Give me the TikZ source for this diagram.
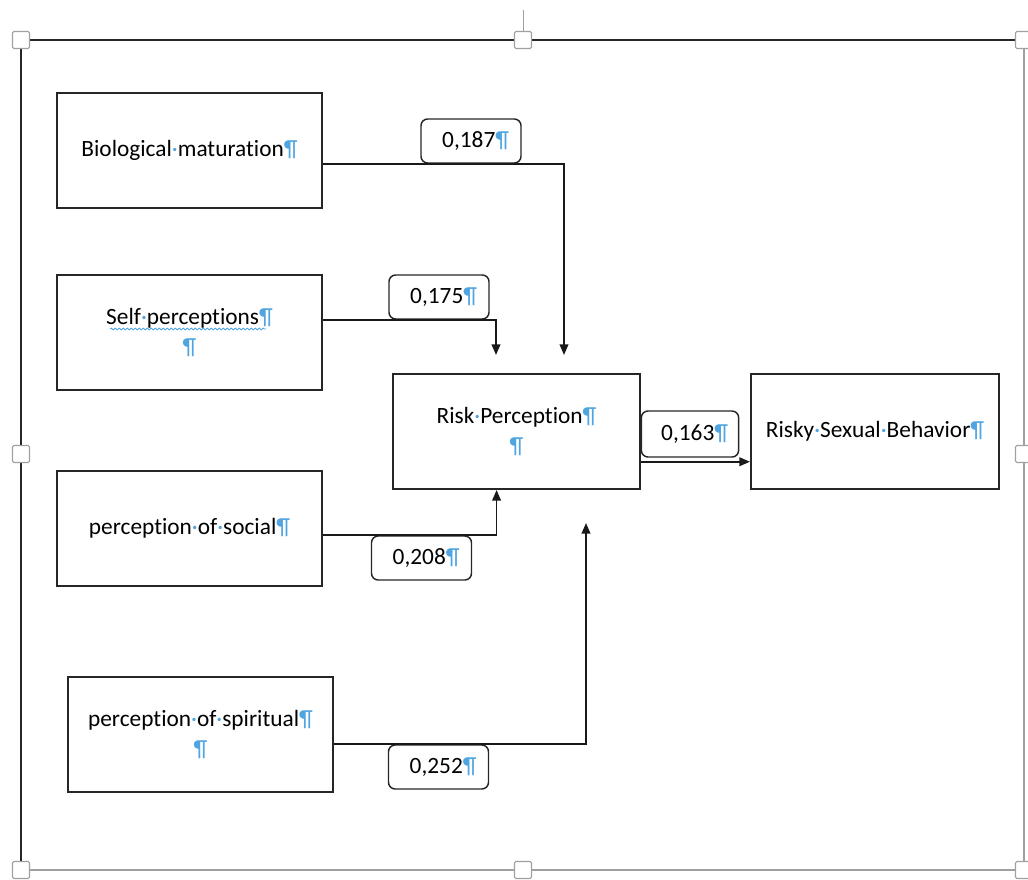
\documentclass[tikz,border=0pt]{standalone}
\usepackage{fontspec}
\setmainfont{Carlito}[Ligatures={NoCommon,NoRequired,NoContextual},RawFeature={-liga;-dlig;-clig}]
\usetikzlibrary{arrows.meta,decorations.pathmorphing,calc}
\definecolor{pilcrow}{RGB}{80,165,225}
\definecolor{framegray}{RGB}{160,160,160}
\newcommand{\pil}{\textcolor{pilcrow}{¶}}
\newcommand{\dt}{\textcolor{pilcrow}{·}}
\begin{document}
\begin{tikzpicture}[x=0.75pt,y=-0.75pt,
  font=\fontsize{17.5}{22}\selectfont,
  varbox/.style={draw=black!85, line width=1.5pt, inner sep=0pt, align=center,
    minimum width=198.75pt, minimum height=86.25pt},
  coefbox/.style={draw=black!85, line width=1.1pt, rounded corners=5pt, inner xsep=9pt, inner ysep=0pt,
    text width=57pt, align=right, minimum height=33pt},
  handle/.style={draw=framegray, fill=white, line width=0.8pt, rounded corners=1pt,
    minimum size=12.75pt, inner sep=0pt},
  conn/.style={black!90, line width=1.3pt},
  arr/.style={conn, -{Triangle[length=8pt,width=6.5pt]}}]
\useasboundingbox (0,0) rectangle (1028,879);
% frame
\draw[framegray, line width=0.6pt] (523,10) -- (523,31);
\draw[framegray, line width=1.2pt] (1024,40) -- (1024,870);
\draw[framegray, line width=0.8pt] (21,870) -- (1024,870);
\draw[black!85, line width=1.6pt] (21,870) -- (21,40) -- (1022,40);
\node[handle] (h1) at (21,40) {};
\node[handle] (h2) at (523,40) {};
\node[handle] (h3) at (1024,40) {};
\node[handle] (h4) at (21,454) {};
\node[handle] (h5) at (1024,454) {};
\node[handle] (h6) at (21,870) {};
\node[handle] (h7) at (523,870) {};
\node[handle] (h8) at (1024,870) {};
% variable boxes
\node[varbox] (bio) at (189.5,150.5) {Biological\dt maturation\pil};
\node[varbox] (self) at (189.5,332.5) {Self\dt perceptions\pil\\\pil};
\node[varbox] (social) at (189.5,528) {perception\dt of\dt social\pil};
\node[varbox] (spirit) at (200.5,734.5) {perception\dt of\dt spiritual\pil\\\pil};
\node[varbox, minimum width=185.25pt] (risk) at (516.5,431.5) {Risk\dt Perception\pil\\\pil};
\node[varbox, minimum width=186pt] (risky) at (875,431.5) {Risky\dt Sexual\dt Behavior\pil};
\draw[pilcrow, line width=0.6pt, decorate, decoration={snake, amplitude=0.7pt, segment length=3pt}] (110,329) -- (266,329);
% coefficient boxes
\node[coefbox] (l187) at (471,141) {0,187\pil};
\node[coefbox] (l175) at (439,297) {0,175\pil};
\node[coefbox] (l208) at (421.5,558) {0,208\pil};
\node[coefbox] (l252) at (438.5,767) {0,252\pil};
\node[coefbox, minimum height=34.5pt, text width=57pt, inner xsep=8pt] (l163) at (690,434) {0,163\pil};
% free ends
\coordinate (a1) at (564,355);
\coordinate (a2) at (496,355);
\coordinate (a3) at ($(risk.south west)!0.42!(risk.south east)$);
\coordinate (a4) at (586,523);
% connectors
\draw[arr] (bio.east |- l187.south) -| (a1);
\draw[arr] (self.east |- l175.south) -| (a2);
\draw[arr] (social.east |- l208.north) -| (a3);
\draw[arr] (spirit.east |- l252.north) -| (a4);
\draw[arr] ($(risk.east |- l163.south)+(0,4)$) -- ($(risky.west |- l163.south)+(0,4)$);
\end{tikzpicture}
\end{document}
